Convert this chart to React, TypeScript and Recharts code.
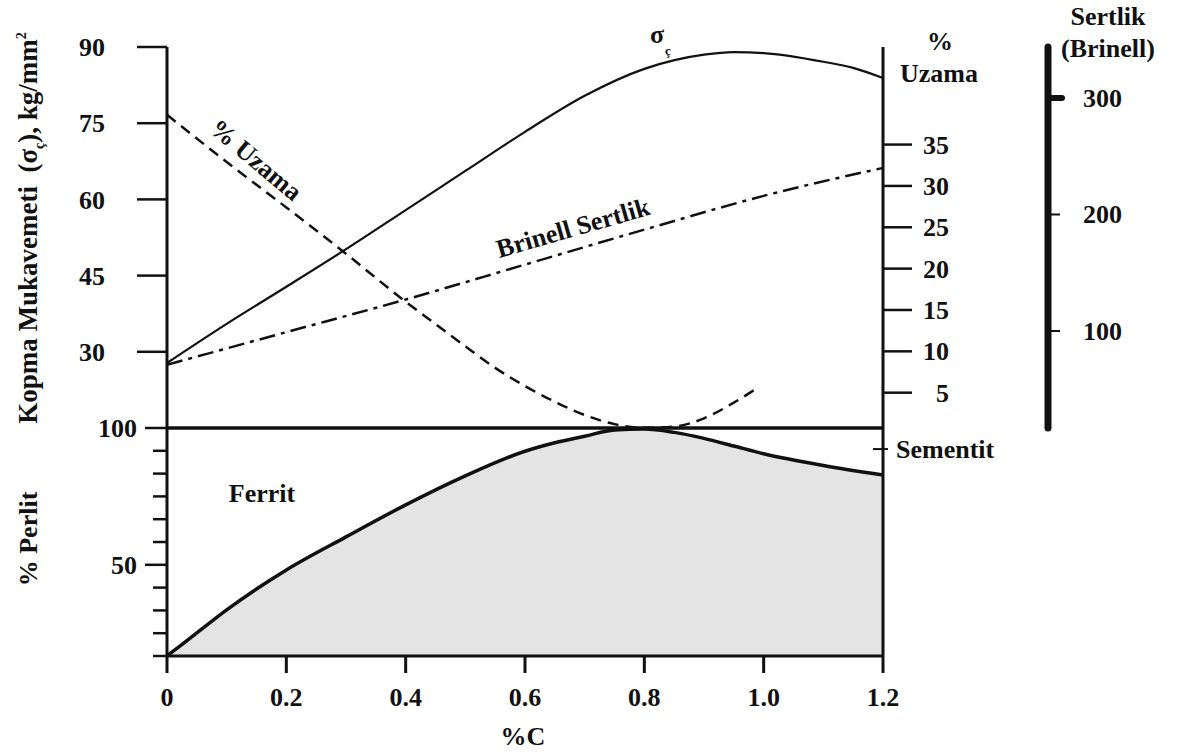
import { Area, ComposedChart, Line, ReferenceLine, XAxis, YAxis } from "recharts";

const FONT = '"Liberation Serif", "Times New Roman", serif';
const INK = "#111";

// axes
const carbonTicks = [0, 0.2, 0.4, 0.6, 0.8, 1.0, 1.2];
const strengthTicks = [30, 45, 60, 75, 90];
const elongationTicks = [5, 10, 15, 20, 25, 30, 35];
const brinellTicks = [100, 200, 300];
const perlitTicks = [16.67, 25, 33.33, 41.67, 50, 58.33, 66.67, 75, 83.33, 91.67, 100];
const perlitLabelled = [100, 50];
const sementitTick = [92.3];

// σç, kg/mm²
const strengthC = [0, 0.1, 0.2, 0.3, 0.4, 0.5, 0.6, 0.7, 0.8, 0.9, 0.95, 1.0, 1.1, 1.15, 1.2];
const strengthValues = [27.8, 35.5, 42.8, 50.2, 57.9, 65.6, 73.3, 80.4, 85.7, 88.5, 89.0, 88.8, 87.1, 85.9, 83.9];

// % uzama
const elongationC = [0, 0.1, 0.2, 0.3, 0.4, 0.45, 0.5, 0.55, 0.6, 0.65, 0.7, 0.75, 0.8, 0.85, 0.9, 0.95, 0.99];
const elongationValues = [38.6, 32.9, 27.4, 21.8, 16.0, 13.3, 10.6, 8.0, 5.8, 3.9, 2.3, 1.2, 0.75, 0.9, 1.9, 3.8, 5.6];

// brinell sertlik
const brinellC = [0, 0.2, 0.4, 0.6, 0.8, 1.0, 1.2];
const brinellValues = [71, 99, 127, 157, 187, 216, 240];

// % perlit
const perlitC = [0, 0.05, 0.1, 0.2, 0.3, 0.4, 0.5, 0.6, 0.65, 0.7, 0.75, 0.8, 0.85, 0.9, 0.95, 1.0, 1.1, 1.2];
const perlitValues = [16.7, 25.1, 33.5, 48.1, 60.2, 71.9, 82.5, 91.5, 94.6, 97.0, 99.3, 99.6, 98.4, 96.2, 93.4, 90.6, 86.3, 82.8];

const strengthData = strengthC.map((c, i) => ({ c, v: strengthValues[i] }));
const elongationData = elongationC.map((c, i) => ({ c, v: elongationValues[i] }));
const brinellData = brinellC.map((c, i) => ({ c, v: brinellValues[i] }));
const perlitData = perlitC.map((c, i) => ({ c, v: perlitValues[i] }));

const txt = { fontFamily: FONT, fontWeight: 700, fill: INK, fontSize: 26 };

const PerlitTick = (p: any) => {
  const major = perlitLabelled.includes(p.payload.value);
  const len = major ? 22 : 14;
  return (
    <g>
      <line x1={p.x - len} x2={p.x} y1={p.y} y2={p.y} stroke={INK} strokeWidth={2.5} />
      {major && (
        <text x={p.x - len - 8} y={p.y + 9} textAnchor="end" style={txt}>
          {p.payload.value}
        </text>
      )}
    </g>
  );
};

const UzamaTick = (p: any) => (
  <g>
    <line x1={p.x} x2={p.x + 29} y1={p.y} y2={p.y} stroke={INK} strokeWidth={2.5} />
    <text x={p.x + 66} y={p.y + 9} textAnchor="end" style={txt}>
      {p.payload.value}
    </text>
  </g>
);

const BrinellTick = (p: any) => {
  const big = p.payload.value === 300;
  return (
    <g>
      <line
        x1={p.x}
        x2={p.x + (big ? 14 : 12)}
        y1={p.y}
        y2={p.y}
        stroke={INK}
        strokeWidth={big ? 6 : 2}
        strokeLinecap={big ? "round" : "butt"}
      />
      <text x={p.x + 35} y={p.y + 9} style={txt}>
        {p.payload.value}
      </text>
    </g>
  );
};

const SementitTick = (p: any) => (
  <g>
    <line x1={p.x - 10} x2={p.x + 5} y1={p.y} y2={p.y} stroke={INK} strokeWidth={2} />
    <text x={p.x + 13} y={p.y + 9} style={txt}>
      Sementit
    </text>
  </g>
);

export default function App() {
  return (
    <div style={{ position: "absolute", left: 0, top: 0, width: 1184, height: 753, background: "#fff" }}>
      <div style={{ position: "absolute", left: 0, top: 0 }}>
        <ComposedChart width={1184} height={753} margin={{ top: 428, right: 101, bottom: 0, left: 0 }}>
          <XAxis
            dataKey="c"
            type="number"
            domain={[0, 1.2]}
            ticks={carbonTicks}
            interval={0}
            tickFormatter={(v: number) => (v === 0 ? "0" : v.toFixed(1))}
            height={97}
            tickSize={17}
            tickMargin={15}
            axisLine={{ stroke: INK, strokeWidth: 3 }}
            tickLine={{ stroke: INK, strokeWidth: 3 }}
            tick={txt}
          />
          <YAxis
            yAxisId="p"
            type="number"
            domain={[16.67, 100]}
            allowDataOverflow
            ticks={perlitTicks}
            interval={0}
            width={167}
            tickSize={0}
            tickMargin={0}
            tickLine={false}
            axisLine={{ stroke: INK, strokeWidth: 3 }}
            tick={PerlitTick}
          />
          <YAxis
            yAxisId="s"
            orientation="right"
            type="number"
            domain={[16.67, 100]}
            allowDataOverflow
            ticks={sementitTick}
            interval={0}
            width={200}
            tickSize={0}
            tickMargin={0}
            tickLine={false}
            axisLine={{ stroke: INK, strokeWidth: 3 }}
            tick={SementitTick}
          />
          <Area
            yAxisId="p"
            data={perlitData}
            dataKey="v"
            type="monotone"
            stroke={INK}
            strokeWidth={3.5}
            fill="#e4e4e4"
            fillOpacity={1}
            isAnimationActive={false}
          />
          <ReferenceLine yAxisId="p" y={100} stroke={INK} strokeWidth={3.5} />
          <text x={262} y={502} textAnchor="middle" style={txt}>Ferrit</text>
          <text x={642} y={563} textAnchor="middle" style={txt}>Perlit</text>
          <text x={523} y={745} textAnchor="middle" style={txt}>%C</text>
          <text transform="translate(37,539) rotate(-90)" textAnchor="middle" style={txt}>% Perlit</text>
        </ComposedChart>
      </div>
      <div style={{ position: "absolute", left: 0, top: 0 }}>
        <ComposedChart width={1184} height={440} margin={{ top: 47, right: 36, bottom: 12, left: 0 }}>
          <XAxis dataKey="c" type="number" domain={[0, 1.2]} hide />
          <YAxis
            yAxisId="sig"
            type="number"
            domain={[15, 90]}
            allowDataOverflow
            ticks={strengthTicks}
            interval={0}
            width={167}
            tickSize={30}
            tickMargin={32}
            axisLine={{ stroke: INK, strokeWidth: 3 }}
            tickLine={{ stroke: INK, strokeWidth: 2.5 }}
            tick={txt}
          />
          <YAxis
            yAxisId="r1"
            orientation="right"
            type="number"
            domain={[0.73, 46.8]}
            allowDataOverflow
            ticks={elongationTicks}
            interval={0}
            width={165}
            tickSize={0}
            tickMargin={0}
            tickLine={false}
            axisLine={{ stroke: INK, strokeWidth: 3 }}
            tick={UzamaTick}
          />
          <YAxis
            yAxisId="r2"
            orientation="right"
            type="number"
            domain={[16.7, 343.8]}
            allowDataOverflow
            ticks={brinellTicks}
            interval={0}
            width={100}
            tickSize={0}
            tickMargin={0}
            tickLine={false}
            axisLine={{ stroke: INK, strokeWidth: 7, strokeLinecap: "round" }}
            tick={BrinellTick}
          />
          <Line
            yAxisId="sig"
            data={strengthData}
            dataKey="v"
            type="monotone"
            stroke={INK}
            strokeWidth={2.2}
            dot={false}
            isAnimationActive={false}
          />
          <Line
            yAxisId="r1"
            data={elongationData}
            dataKey="v"
            type="monotone"
            stroke={INK}
            strokeWidth={2.5}
            strokeDasharray="11 7"
            dot={false}
            isAnimationActive={false}
          />
          <Line
            yAxisId="r2"
            data={brinellData}
            dataKey="v"
            type="monotone"
            stroke={INK}
            strokeWidth={2.5}
            strokeDasharray="16 6 4 6"
            dot={false}
            isAnimationActive={false}
          />
          <text transform="translate(37,228) rotate(-90)" textAnchor="middle" style={{ ...txt, fontSize: 27 }}>
            Kopma Mukavemeti{"\u00a0 "}(σ
            <tspan fontSize={14} dy={7}>ç</tspan>
            <tspan dy={-7}>), kg/mm</tspan>
            <tspan fontSize={14} dy={-11}>2</tspan>
          </text>
          <text x={657} y={43} textAnchor="middle" style={txt}>σ</text>
          <text x={668} y={55} textAnchor="middle" style={{ ...txt, fontSize: 13 }}>ç</text>
          <text transform="translate(256,160) rotate(40)" textAnchor="middle" dominantBaseline="central" style={txt}>
            % Uzama
          </text>
          <text transform="translate(573,228) rotate(-16)" textAnchor="middle" dominantBaseline="central" style={txt}>
            Brinell Sertlik
          </text>
          <text x={940} y={50} textAnchor="middle" style={txt}>%</text>
          <text x={939} y={82} textAnchor="middle" style={txt}>Uzama</text>
          <text x={1108} y={25} textAnchor="middle" style={txt}>Sertlik</text>
          <text x={1108} y={57} textAnchor="middle" style={txt}>(Brinell)</text>
        </ComposedChart>
      </div>
    </div>
  );
}
